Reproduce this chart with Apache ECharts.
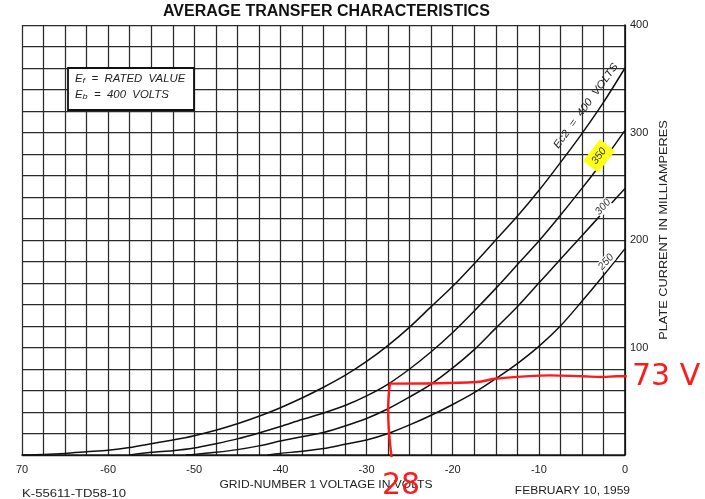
<!DOCTYPE html>
<html>
<head>
<meta charset="utf-8">
<script src="https://cdn.jsdelivr.net/npm/echarts@6/dist/echarts.min.js"></script>
<style>html,body{margin:0;padding:0;background:#fff}#c{width:705px;height:499px}</style>
</head>
<body>
<div id="c"></div>
<script>
// ---- data ----
const xTickLabels = {'-70':'70','-60':'-60','-50':'-50','-40':'-40','-30':'-30','-20':'-20','-10':'-10','0':'0'};
const yTickLabels = {'100':'100','200':'200','300':'300','400':'400'};

const ec2_400_v = [-70,-67.5,-65,-62.5,-60,-57.5,-55,-52.5,-50,-47.5,-45,-42.5,-40,-37.5,-35,-32.5,-30,-27.5,-25,-22.5,-20,-17.5,-15,-12.5,-10,-7.5,-5,-2.5,0];
const ec2_400_i = [0,0.5,1.5,3,4.5,7,10.5,14,18,23,29,36,44,53,63,74,87,102,119,138,157,178,200,222,246,272,299,328,360];

const ec2_350_v = [-57.5,-55,-52.5,-50,-47.5,-45,-42.5,-40,-37.5,-35,-32.5,-30,-27.5,-25,-22.5,-20,-17.5,-15,-12.5,-10,-7.5,-5,-2.5,0];
const ec2_350_i = [0,2.5,4,6.5,10.5,15,20.5,26.5,33,39,46,55,66,80,96,114,134,155,177,199,223,248,274,302];

const ec2_300_v = [-51,-50,-47.5,-45,-42.5,-40,-37.5,-35,-32.5,-30,-27.5,-25,-22.5,-20,-17.5,-15,-12.5,-10,-7.5,-5,-2.5,0];
const ec2_300_i = [0,0.5,2.5,5,8.5,13,17,21,27,34,43,54,66,81,98,118,138,160,182,204,226,248];

const ec2_250_v = [-41.5,-40,-37.5,-35,-32.5,-30,-27.5,-25,-22.5,-20,-17.5,-15,-12.5,-10,-7.5,-5,-2.5,0];
const ec2_250_i = [0,1.5,3.5,6,10,14,20,28,37,47,58,71,85,101,120,143,167,192];

// red hand annotation
const markH_v = [-27.3,-17.2,-14.9,-8.7,-4.9,-2.6,-1.0,0.2];
const markH_i = [66.4,67.9,71.1,74.1,73.2,72.6,73.2,73.2];
const markV_v = [-27.3,-27.5,-27.1];
const markV_i = [66.4,41.6,-1.9];

function pairs(v, i){ return v.map((x,k)=>[x, i[k]]); }

const chart = echarts.init(document.getElementById('c'), null, {renderer:'canvas'});
const FONT = 'Liberation Sans';
const curveStyle = {color:'#111', width:1.5};
const gridLine = {color:'#2a2a2a', width:1.25};
const boxRich = {a:{font:'italic 10px "Liberation Sans"', fill:'#222'}, s:{font:'italic 8px "Liberation Sans"', fill:'#222', verticalAlign:'bottom', padding:[4,0,0,0]}};

const option = {
  backgroundColor:'#fff',
  animation:false,
  grid:{left:22, right:80, top:25, bottom:44},
  xAxis:{
    type:'value', min:-70, max:0, interval:2.5,
    axisLine:{show:true, onZero:false, lineStyle:{color:'#111', width:1.6}},
    axisTick:{show:false},
    splitLine:{show:true, lineStyle:gridLine},
    axisLabel:{
      margin:9, color:'#222', fontFamily:FONT, fontSize:11,
      formatter:function(v){ const k=String(Math.round(v*10)/10); return xTickLabels[k]!==undefined ? xTickLabels[k] : ''; }
    }
  },
  yAxis:{
    type:'value', position:'right', min:0, max:400, interval:20,
    axisLine:{show:true, lineStyle:{color:'#111', width:1.6}},
    axisTick:{show:false},
    splitLine:{show:true, lineStyle:gridLine},
    axisLabel:{
      margin:5, color:'#222', fontFamily:FONT, fontSize:11,
      formatter:function(v){ const k=String(v); return yTickLabels[k]!==undefined ? yTickLabels[k] : ''; }
    }
  },
  series:[
    {name:'400', type:'line', data:pairs(ec2_400_v, ec2_400_i), smooth:0.3, showSymbol:false, lineStyle:curveStyle, z:5},
    {name:'350', type:'line', data:pairs(ec2_350_v, ec2_350_i), smooth:0.3, showSymbol:false, lineStyle:curveStyle, z:5},
    {name:'300', type:'line', data:pairs(ec2_300_v, ec2_300_i), smooth:0.3, showSymbol:false, lineStyle:curveStyle, z:5},
    {name:'250', type:'line', data:pairs(ec2_250_v, ec2_250_i), smooth:0.3, showSymbol:false, lineStyle:curveStyle, z:5},
    {name:'markH', type:'line', data:pairs(markH_v, markH_i), smooth:0.4, showSymbol:false, clip:false, lineStyle:{color:'#ff1a1a', width:2.4}, z:8},
    {name:'markV', type:'line', data:pairs(markV_v, markV_i), smooth:0.4, showSymbol:false, clip:false, lineStyle:{color:'#ff1a1a', width:2.4}, z:8}
  ],
  graphic:[
    {type:'text', z:10, left:163, top:4, style:{text:'AVERAGE TRANSFER CHARACTERISTICS', font:'bold 16px "Liberation Sans"', fill:'#111'}},
    {type:'rect', z:10, shape:{x:68, y:68, width:126, height:42}, style:{fill:'#fff', stroke:'#111', lineWidth:1.8}},
    {type:'text', z:11, x:75, y:73, scaleX:1.14, style:{text:'{a|E}{s|f}{a|  =  RATED  VALUE}', rich:boxRich}},
    {type:'text', z:11, x:75, y:89, scaleX:1.14, style:{text:'{a|E}{s|b}{a|  =  400  VOLTS}', rich:boxRich}},
    {type:'text', z:11, x:586, y:106, rotation:54*Math.PI/180, scaleX:1.1, style:{text:'Ec2  =  400  VOLTS', font:'italic 10.5px "Liberation Sans"', fill:'#222', align:'center', verticalAlign:'middle'}},
    {type:'text', z:11, x:599, y:156, rotation:52*Math.PI/180, style:{text:'350', font:'italic 10.5px "Liberation Sans"', fill:'#333', align:'center', verticalAlign:'middle', backgroundColor:'#ffff1a', padding:[4,5,4,5]}},
    {type:'text', z:11, x:603, y:207, rotation:48*Math.PI/180, style:{text:'300', font:'italic 10.5px "Liberation Sans"', fill:'#333', align:'center', verticalAlign:'middle', backgroundColor:'#fff'}},
    {type:'text', z:11, x:606, y:262, rotation:48*Math.PI/180, style:{text:'250', font:'italic 10.5px "Liberation Sans"', fill:'#333', align:'center', verticalAlign:'middle', backgroundColor:'#fff'}},
    {type:'text', z:10, x:664, y:230, rotation:Math.PI/2, scaleX:1.16, style:{text:'PLATE CURRENT IN MILLIAMPERES', font:'11px "Liberation Sans"', fill:'#222', align:'center', verticalAlign:'middle'}},
    {type:'text', z:10, x:326, y:485, scaleX:1.1, style:{text:'GRID-NUMBER 1 VOLTAGE IN VOLTS', font:'11px "Liberation Sans"', fill:'#222', align:'center', verticalAlign:'middle'}},
    {type:'text', z:10, x:22, y:494, scaleX:1.25, style:{text:'K-55611-TD58-10', font:'10.5px "Liberation Sans"', fill:'#222', align:'left', verticalAlign:'middle'}},
    {type:'text', z:10, x:630, y:491, scaleX:1.2, style:{text:'FEBRUARY 10, 1959', font:'10px "Liberation Sans"', fill:'#222', align:'right', verticalAlign:'middle'}},
    {type:'text', z:12, x:632, y:377, style:{text:'73 V', font:'30px "DejaVu Sans"', fill:'#ff1a1a', align:'left', verticalAlign:'middle'}},
    {type:'text', z:12, x:401, y:486, style:{text:'28', font:'30px "DejaVu Sans"', fill:'#ff1a1a', align:'center', verticalAlign:'middle'}}
  ]
};
chart.setOption(option);
</script>
</body>
</html>
